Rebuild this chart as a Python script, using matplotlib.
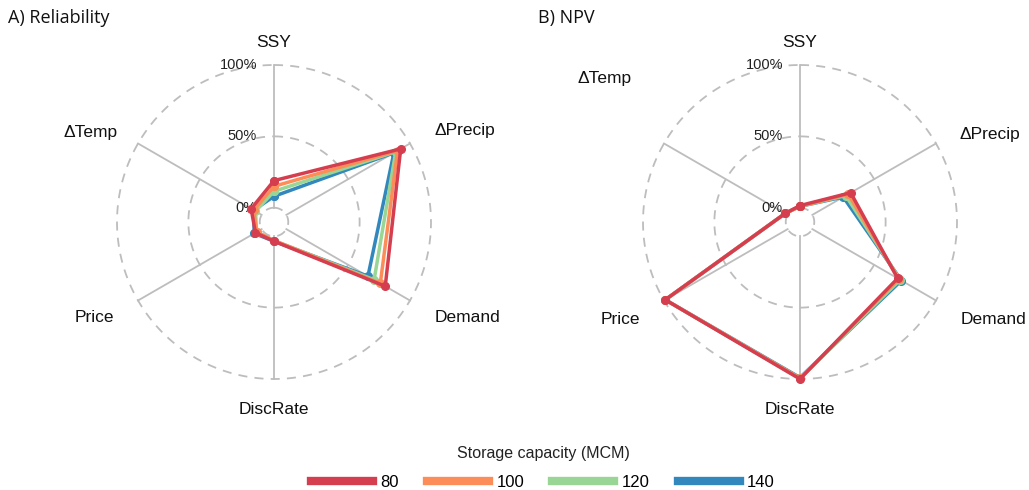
import numpy as np
import matplotlib
matplotlib.use("Agg")
import matplotlib.pyplot as plt
from matplotlib.lines import Line2D

plt.rcParams['font.family'] = ['Liberation Sans', 'DejaVu Sans']

# ---------------- data ----------------
axes_names = ["SSY", "ΔPrecip", "Demand", "DiscRate", "Price", "ΔTemp"]
capacities = ["80", "100", "120", "140"]
colors = ["#D53E4F", "#FC8D59", "#99D594", "#3288BD"]

# Panel A: Reliability (%)
rel_80 = [19, 92.5, 80, 3.5, 5, 8.5]
rel_100 = [15, 90, 76, 3, 4, 6.5]
rel_120 = [11.5, 88.5, 71, 3, 4, 5]
rel_140 = [8, 87, 66, 3.5, 6, 6.5]

# Panel B: NPV (%)
npv_80 = [1.5, 31, 69, 100, 99, 2]
npv_100 = [1, 29, 70, 99.5, 99, 2]
npv_120 = [1, 27, 71, 99.5, 99, 2]
npv_140 = [1, 25, 72, 99, 99, 2]

rel_series = [rel_80, rel_100, rel_120, rel_140]
npv_series = [npv_80, npv_100, npv_120, npv_140]

grid_levels = [0, 50, 100]
grid_labels = ["0%", "50%", "100%"]

# ---------------- layout ----------------
W, H = 1029, 490
R_PX = 157
centers = [(274, 222), (800, 222)]
# label offsets in pixels from center (dx, dy with dy down)
label_offsets_A = [(0, -180), (191, -91), (193, 96), (0, 188), (-180, 96), (-183, -89)]
label_offsets_B = [(0, -180), (190, -87), (193, 98), (0, 188), (-180, 98), (-195, -143)]
titles = ["A) Reliability", "B) NPV"]
title_pos = [(8, 18), (538, 18)]

fig = plt.figure(figsize=(W / 100, H / 100), dpi=100)

n = len(axes_names)
theta = np.arange(n) * 2 * np.pi / n
theta_closed = np.append(theta, theta[0])
circ = np.linspace(0, 2 * np.pi, 400)
px2pt = 72 / 100


def draw_panel(center, series, offsets):
    cx, cy = center
    ax = fig.add_axes([(cx - R_PX) / W, (H - cy - R_PX) / H, 2 * R_PX / W, 2 * R_PX / H],
                      projection='polar')
    ax.set_theta_zero_location('N')
    ax.set_theta_direction(-1)
    ax.set_ylim(-10, 100)
    ax.grid(False)
    ax.spines['polar'].set_visible(False)
    ax.set_xticks([])
    ax.set_yticks([])
    ax.patch.set_alpha(0)
    # radial lines
    for t in theta:
        ax.plot([t, t], [0, 100], color="#BDBDBD", lw=1.3, zorder=1, clip_on=False)
    # dashed rings
    for lv in grid_levels:
        ax.plot(circ, np.full_like(circ, lv), color="#BDBDBD", lw=1.3,
                ls=(0, (5, 4)), zorder=1, clip_on=False)
    # ring labels
    for lv, lab in zip(grid_levels, grid_labels):
        ax.annotate(lab, xy=(0, lv), xytext=(-17 * px2pt, 0), textcoords='offset points',
                    ha='right', va='center', fontsize=10.5, color="#222222", zorder=2)
    # series (red on top)
    for vals, col in reversed(list(zip(series, colors))):
        v = np.append(vals, vals[0])
        ax.plot(theta_closed, v, color=col, lw=2.5, marker='o', ms=5.5,
                zorder=3, clip_on=False, solid_joinstyle='miter')
    # axis labels
    for name, (dx, dy) in zip(axes_names, offsets):
        ax.annotate(name, xy=(0, -10), xytext=(dx * px2pt, -dy * px2pt),
                    textcoords='offset points', ha='center', va='center',
                    fontsize=12.5, color="#111111")
    return ax


draw_panel(centers[0], rel_series, label_offsets_A)
draw_panel(centers[1], npv_series, label_offsets_B)

for t, (x, y) in zip(titles, title_pos):
    fig.text(x / W, 1 - y / H, t, fontsize=13, family=['Open Sans', 'DejaVu Sans'],
             ha='left', va='center', color="#111111")

handles = [Line2D([0], [0], color=c, lw=6) for c in colors]
leg = fig.legend(handles, capacities, loc='center', bbox_to_anchor=(543 / W, 1 - 468 / H),
                 ncol=4, frameon=False, title="Storage capacity (MCM)",
                 fontsize=12, title_fontsize=11.5, handlelength=3.7, columnspacing=1.7,
                 handletextpad=0.45, borderaxespad=0)
leg.get_title().set_color("#222222")
leg._legend_box.sep = 10

fig.savefig("out.png", dpi=100)
